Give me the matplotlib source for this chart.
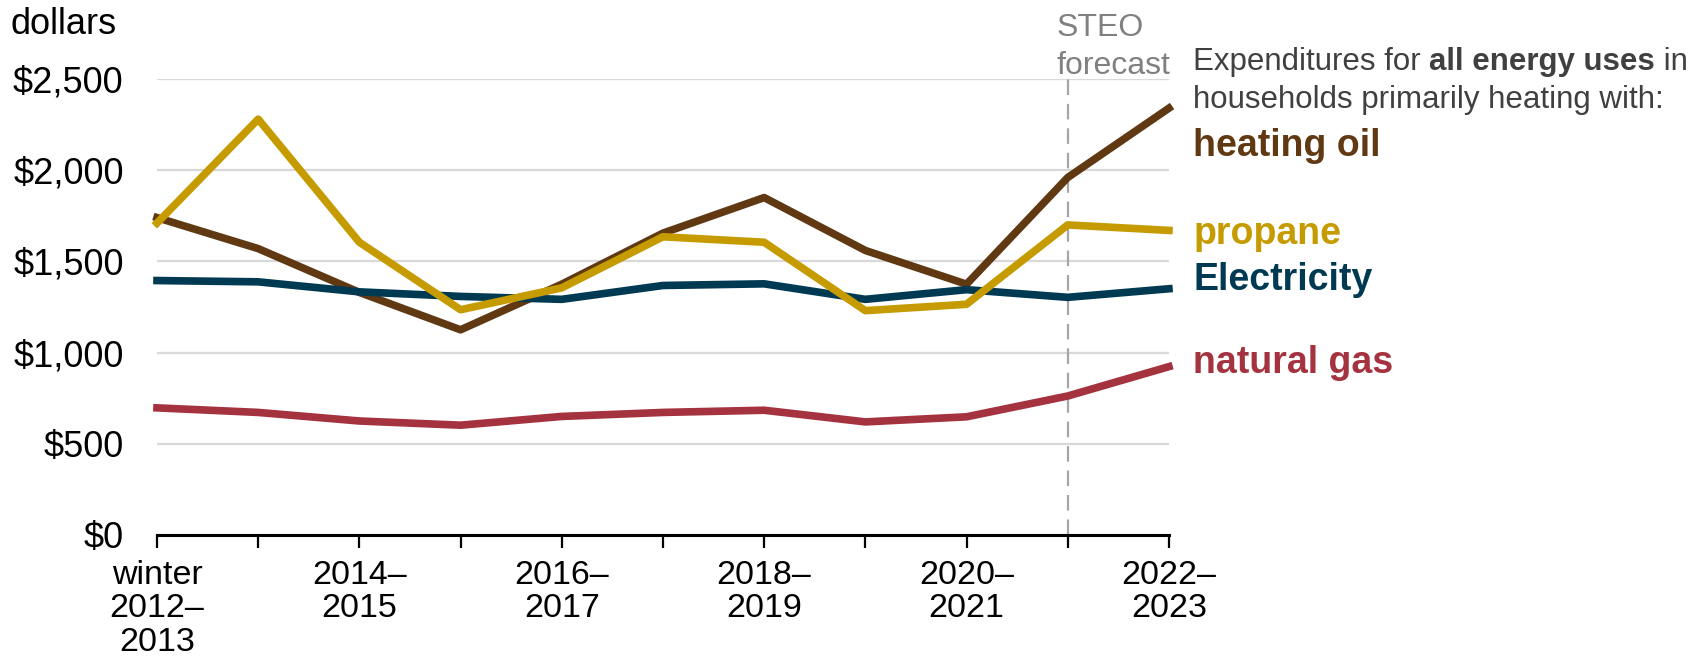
import numpy as np
import matplotlib.pyplot as plt

plt.rcParams['font.family'] = ['Liberation Sans', 'DejaVu Sans']

## data (winter seasons 2012-13 ... 2022-23)
season_labels = ["winter\n2012–\n2013", "", "2014–\n2015", "", "2016–\n2017", "",
                 "2018–\n2019", "", "2020–\n2021", "", "2022–\n2023"]
heating_oil = [1740, 1570, 1330, 1125, 1375, 1655, 1850, 1560, 1375, 1960, 2340]
propane = [1710, 2280, 1605, 1235, 1355, 1635, 1605, 1230, 1265, 1700, 1670]
electricity = [1395, 1388, 1333, 1308, 1292, 1368, 1377, 1292, 1345, 1303, 1350]
natural_gas = [697, 672, 625, 602, 650, 672, 684, 620, 648, 762, 923]
forecast_start = 9

c_oil = "#603913"
c_propane = "#C59B00"
c_elec = "#003A52"
c_gas = "#A5323F"

x = np.arange(len(season_labels))

fig = plt.figure(figsize=(17.01, 6.60), dpi=100)
ax = fig.add_axes([0.0923, 0.1894, 0.5949, 0.6909])

lw = 5.5
ax.plot(x, natural_gas, color=c_gas, lw=lw, zorder=3, clip_on=False)
ax.plot(x, heating_oil, color=c_oil, lw=lw, zorder=4, clip_on=False)
ax.plot(x, electricity, color=c_elec, lw=lw, zorder=5, clip_on=False)
ax.plot(x, propane, color=c_propane, lw=lw, zorder=6, clip_on=False)

ax.axvline(forecast_start, color="#a6a6a6", lw=1.6, dashes=(7, 4), zorder=2)

ax.set_xlim(0, 10)
ax.set_ylim(0, 2500)
ax.set_yticks([0, 500, 1000, 1500, 2000, 2500])
ax.set_yticklabels(["$0", "$500", "$1,000", "$1,500", "$2,000", "$2,500"])
ax.set_xticks(x)
ax.set_xticklabels(season_labels, linespacing=1.1)
ax.yaxis.grid(True, color="#d9d9d9", lw=1.6)
ax.set_axisbelow(True)
for s in ["top", "right", "left"]:
    ax.spines[s].set_visible(False)
ax.spines["bottom"].set_linewidth(2.2)
ax.spines["bottom"].set_zorder(7)
ax.tick_params(axis="y", length=0, pad=24, labelsize=26)
ax.tick_params(axis="x", length=9, width=1.6, pad=9, labelsize=24.5)

fig.text(0.006, 1 - 25 / 660, "dollars", fontsize=26, va="center", ha="left")

## forecast note
ax.text(8.89, 2780, "STEO", color="#808080", fontsize=23, va="center", ha="left")
ax.text(8.89, 2570, "forecast", color="#808080", fontsize=23, va="center", ha="left")

## right-hand labels
lx = 10.24
gray = "#404040"
t1 = ax.text(lx, 2595, "Expenditures for ", color=gray, fontsize=22.5, va="center", ha="left")
t2 = ax.annotate("all energy uses", xy=(1, 0), xycoords=t1, va="bottom", ha="left",
                 color=gray, fontsize=22.5, fontweight="bold")
ax.annotate(" in", xy=(1, 0), xycoords=t2, va="bottom", ha="left", color=gray, fontsize=22.5)
ax.text(lx, 2387, "households primarily heating with:", color=gray, fontsize=22.5, va="center", ha="left")
ax.text(lx, 2130, "heating oil", color=c_oil, fontsize=27, fontweight="bold", va="center", ha="left")
ax.text(lx, 1650, "propane", color=c_propane, fontsize=27, fontweight="bold", va="center", ha="left")
ax.text(lx, 1400, "Electricity", color=c_elec, fontsize=27, fontweight="bold", va="center", ha="left")
ax.text(lx, 942, "natural gas", color=c_gas, fontsize=27, fontweight="bold", va="center", ha="left")

fig.savefig("out.png", dpi=100)
